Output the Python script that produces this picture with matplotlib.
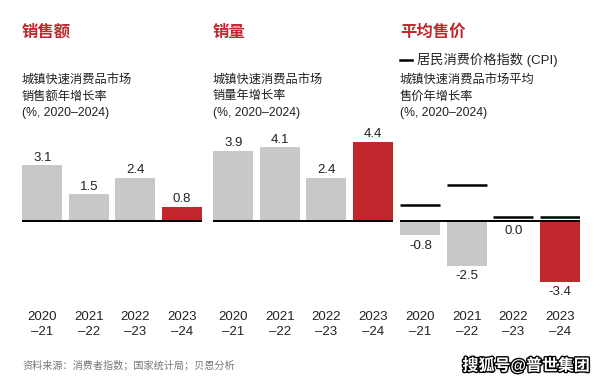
import matplotlib
matplotlib.use("Agg")
import matplotlib.pyplot as plt
from matplotlib.lines import Line2D
import matplotlib.patheffects as pe

plt.rcParams['font.family'] = ['Liberation Sans', 'Noto Sans CJK SC', 'DejaVu Sans']

W, H = 596, 384
RED = '#C1272D'
GRAY = '#C8C8C8'

periods = ["2020\n–21", "2021\n–22", "2022\n–23", "2023\n–24"]
sales = [3.1, 1.5, 2.4, 0.8]
volume = [3.9, 4.1, 2.4, 4.4]
price = [-0.8, -2.5, 0.0, -3.4]
cpi = [0.9, 2.0, 0.2, 0.2]

titles = ["销售额", "销量", "平均售价"]
subtitles = [
    ["城镇快速消费品市场", "销售额年增长率", "(%, 2020–2024)"],
    ["城镇快速消费品市场", "销量年增长率", "(%, 2020–2024)"],
    ["城镇快速消费品市场平均", "售价年增长率", "(%, 2020–2024)"],
]
cpi_label = "居民消费价格指数 (CPI)"
source = "资料来源：消费者指数；国家统计局；贝恩分析"
watermark = "搜狐号@普世集团"

fig = plt.figure(figsize=(W / 100, H / 100), dpi=100)
fig.patch.set_facecolor('white')


def fx(x):
    return x / W


def fy(y):
    return 1 - y / H


panel_x = [22, 213, 400]
panel_w = 180
ax_top, ax_bot = 130, 290
base_px = 221
ppu = 18.0
ylim_top = (base_px - ax_top) / ppu
ylim_bot = -(ax_bot - base_px) / ppu

series = [sales, volume, price]
for i, (x0, vals) in enumerate(zip(panel_x, series)):
    ax = fig.add_axes([fx(x0), fy(ax_bot), panel_w / W, (ax_bot - ax_top) / H])
    xs = list(range(len(vals)))
    colors = [GRAY, GRAY, GRAY, RED]
    ax.bar(xs, vals, width=0.86, color=colors, zorder=2)
    ax.axhline(0, color='black', lw=1.4, zorder=3)
    if i == 2:
        ax.hlines(cpi, [x - 0.43 for x in xs], [x + 0.43 for x in xs],
                  color='black', lw=1.8, zorder=4)
    for x, v in zip(xs, vals):
        if v > 0:
            ax.annotate(f"{v:.1f}", (x, v), xytext=(0, 1), textcoords='offset points',
                        ha='center', va='bottom', fontsize=9.5, color='#222222')
        else:
            ax.annotate(f"{v:.1f}", (x, v), xytext=(0, -3), textcoords='offset points',
                        ha='center', va='top', fontsize=9.5, color='#222222')
    ax.set_xlim(-0.44, 3.44)
    ax.set_ylim(ylim_bot, ylim_top)
    ax.set_xticks(xs)
    ax.set_xticklabels(periods, fontsize=9.5, color='#222222', linespacing=1.4)
    ax.tick_params(axis='x', length=0, pad=15)
    ax.set_yticks([])
    for s in ax.spines.values():
        s.set_visible(False)
    ax.patch.set_alpha(0)

    # titles
    fig.text(fx(x0), fy(32), titles[i], color=RED, fontsize=11.8, fontweight='bold',
             ha='left', va='center')
    for j, line in enumerate(subtitles[i]):
        fig.text(fx(x0), fy(80 + j * 16.5), line, fontsize=8.8, color='#222222',
                 ha='left', va='center')

# CPI legend
fig.add_artist(Line2D([fx(400), fx(412)], [fy(60), fy(60)], color='black', lw=1.8))
fig.text(fx(417), fy(60), cpi_label, fontsize=9.5, color='#222222', ha='left', va='center')

# source
fig.text(fx(22), fy(365), source, fontsize=7.3, color='#777777', ha='left', va='center')

# watermark
fig.text(fx(590), fy(365), watermark, fontsize=11.5, fontweight='bold', color='white',
         ha='right', va='center',
         path_effects=[pe.withStroke(linewidth=2, foreground='black')])

fig.savefig("out.png", dpi=100)
